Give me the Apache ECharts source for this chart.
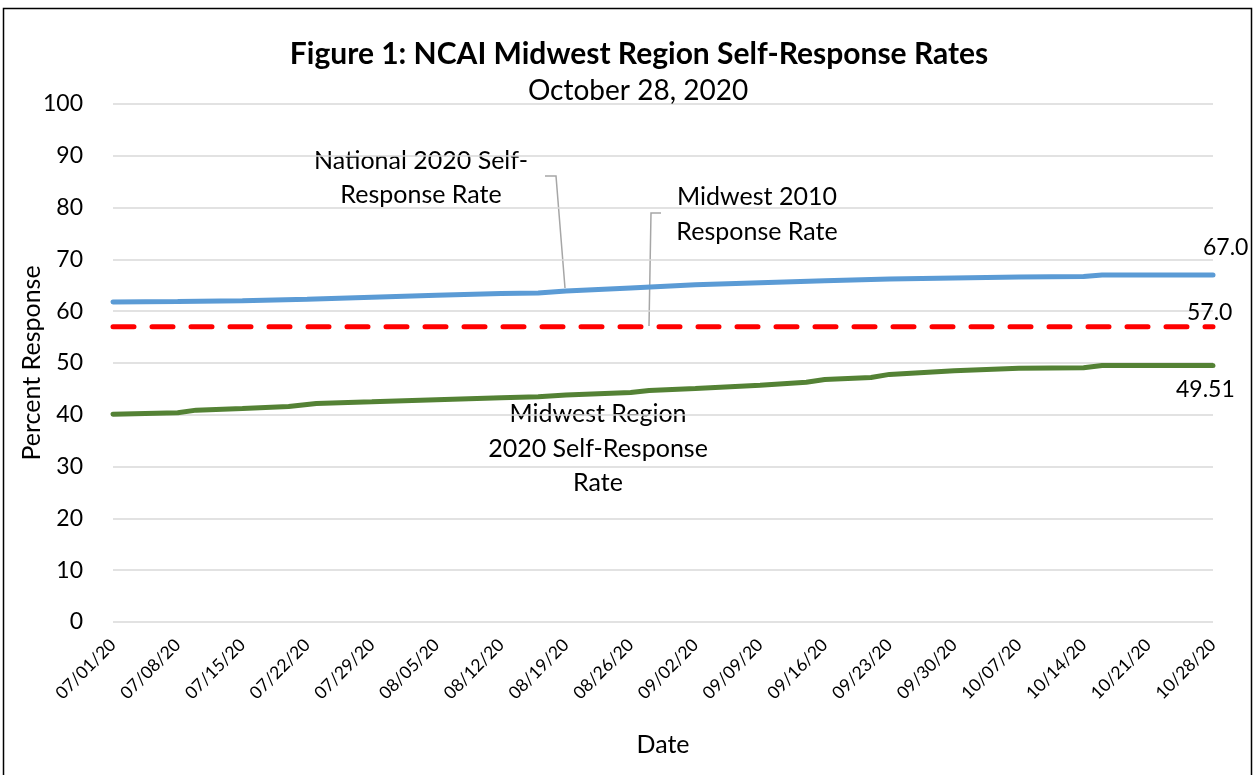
<!DOCTYPE html>
<html>
<head>
<meta charset="utf-8">
<script src="https://cdn.jsdelivr.net/npm/echarts@6/dist/echarts.min.js"></script>
<style>html,body{margin:0;padding:0;background:#fff}#chart{width:1255px;height:775px}</style>
</head>
<body>
<div id="chart"></div>
<script>
// Daily categories 07/01/20 .. 10/28/20
var startDate = [2020, 6, 1];
var dayCount = 120;
var dates = [];
(function(){
  var d = new Date(Date.UTC(startDate[0], startDate[1], startDate[2]));
  for (var i = 0; i < dayCount; i++) {
    var m = String(d.getUTCMonth() + 1).padStart(2, '0');
    var dd = String(d.getUTCDate()).padStart(2, '0');
    dates.push(m + '/' + dd + '/20');
    d.setUTCDate(d.getUTCDate() + 1);
  }
})();

var yTicks = [0, 10, 20, 30, 40, 50, 60, 70, 80, 90, 100];

// National 2020 self-response rate
var nationalDates = ['07/01/20','07/08/20','07/15/20','07/22/20','07/29/20','08/05/20','08/12/20','08/16/20','08/19/20','08/26/20','09/02/20','09/09/20','09/16/20','09/23/20','09/30/20','10/07/20','10/14/20','10/16/20','10/21/20','10/28/20'];
var nationalValues = [61.8, 61.85, 62.0, 62.3, 62.7, 63.1, 63.4, 63.5, 63.9, 64.5, 65.1, 65.5, 65.9, 66.2, 66.4, 66.6, 66.7, 67.0, 67.0, 67.0];

// Midwest region 2020 self-response rate
var midwestDates = ['07/01/20','07/08/20','07/10/20','07/15/20','07/20/20','07/23/20','07/29/20','08/05/20','08/12/20','08/16/20','08/19/20','08/26/20','08/28/20','09/02/20','09/09/20','09/14/20','09/16/20','09/21/20','09/23/20','09/30/20','10/07/20','10/14/20','10/16/20','10/28/20'];
var midwestValues = [40.1, 40.4, 40.9, 41.2, 41.6, 42.2, 42.5, 42.9, 43.3, 43.5, 43.8, 44.3, 44.7, 45.1, 45.7, 46.3, 46.8, 47.2, 47.8, 48.5, 49.0, 49.1, 49.5, 49.51];

// Midwest 2010 response rate (constant)
var midwest2010Dates = ['07/01/20', '10/28/20'];
var midwest2010Values = [57.0, 57.0];

var endLabels = ['67.0', '57.0', '49.51'];
var yAxisTitle = 'Percent Response';

var FONT = 'Lato, "Open Sans", sans-serif';

function pairs(ds, vs) { return ds.map(function(d, i){ return [d, vs[i]]; }); }

function endLabel(text, offset) {
  return { show: true, formatter: text, offset: offset, distance: 5, align: 'left',
           fontFamily: FONT, fontSize: 23, color: '#000' };
}

var chart = echarts.init(document.getElementById('chart'));
chart.setOption({
  animation: false,
  backgroundColor: '#fff',
  title: [
    { text: 'Figure 1: NCAI Midwest Region Self-Response Rates', left: 634, top: 34, textAlign: 'center',
      textStyle: { fontFamily: FONT, fontSize: 30, fontWeight: 'bold', color: '#000' } },
    { text: 'October 28, 2020', left: 633, top: 72, textAlign: 'center',
      textStyle: { fontFamily: FONT, fontSize: 28, fontWeight: 'normal', color: '#000' } }
  ],
  grid: { left: 113, right: 42, top: 104, bottom: 153, containLabel: false },
  xAxis: {
    type: 'category',
    data: dates,
    boundaryGap: false,
    name: 'Date',
    nameLocation: 'middle',
    nameGap: 110,
    nameTextStyle: { fontFamily: FONT, fontSize: 25, color: '#000' },
    axisLine: { show: false },
    axisTick: { show: false },
    splitLine: { show: false },
    axisLabel: { interval: 6, rotate: 45, margin: 20, fontFamily: FONT, fontSize: 17.5, color: '#000' }
  },
  yAxis: {
    type: 'value',
    min: yTicks[0],
    max: yTicks[yTicks.length - 1],
    interval: 10,
    axisLine: { show: false },
    axisTick: { show: false },
    axisLabel: { margin: 30, fontFamily: FONT, fontSize: 23, color: '#000' },
    splitLine: { lineStyle: { color: '#d9d9d9', width: 1.5 } }
  },
  series: [
    {
      name: 'National 2020 Self-Response Rate', type: 'line', showSymbol: false, symbol: 'none',
      data: pairs(nationalDates, nationalValues),
      endLabel: endLabel(endLabels[0], [-15, -27]),
      lineStyle: { color: '#5b9bd5', width: 5, cap: 'round' }, itemStyle: { color: '#5b9bd5' }, z: 3
    },
    {
      name: 'Midwest 2010 Response Rate', type: 'line', showSymbol: false, symbol: 'none',
      data: pairs(midwest2010Dates, midwest2010Values),
      endLabel: endLabel(endLabels[1], [-31, -14]),
      lineStyle: { color: '#ff0000', width: 5, type: [21, 18], cap: 'round' }, itemStyle: { color: '#ff0000' }, z: 2
    },
    {
      name: 'Midwest Region 2020 Self-Response Rate', type: 'line', showSymbol: false, symbol: 'none',
      data: pairs(midwestDates, midwestValues),
      endLabel: endLabel(endLabels[2], [-42, 24]),
      lineStyle: { color: '#548235', width: 5, cap: 'round' }, itemStyle: { color: '#548235' }, z: 3
    }
  ],
  graphic: [
    { type: 'rect', shape: { x: 3.5, y: 8.5, width: 1248, height: 800 }, style: { fill: null, stroke: '#000', lineWidth: 1.5 }, silent: true },
    { type: 'text', x: 32, y: 363, rotation: Math.PI / 2, style: { text: yAxisTitle, align: 'center', verticalAlign: 'middle', fontFamily: FONT, fontSize: 25, fill: '#000' } },
    { type: 'text', x: 421, y: 144, style: { text: 'National 2020 Self-\nResponse Rate', align: 'center', fontFamily: FONT, fontSize: 25, lineHeight: 34, fill: '#000' } },
    { type: 'polyline', shape: { points: [[545, 176], [556, 176], [565, 288]] }, style: { stroke: '#a6a6a6', lineWidth: 1.5, fill: null } },
    { type: 'text', x: 757, y: 179, style: { text: 'Midwest 2010\nResponse Rate', align: 'center', fontFamily: FONT, fontSize: 25, lineHeight: 35, fill: '#000' } },
    { type: 'polyline', shape: { points: [[661, 213], [651, 213], [649, 326]] }, style: { stroke: '#a6a6a6', lineWidth: 1.5, fill: null } },
    { type: 'text', x: 598, y: 397, style: { text: 'Midwest Region\n2020 Self-Response\nRate', align: 'center', fontFamily: FONT, fontSize: 25, lineHeight: 34.5, fill: '#000' } }
  ]
});
</script>
</body>
</html>
